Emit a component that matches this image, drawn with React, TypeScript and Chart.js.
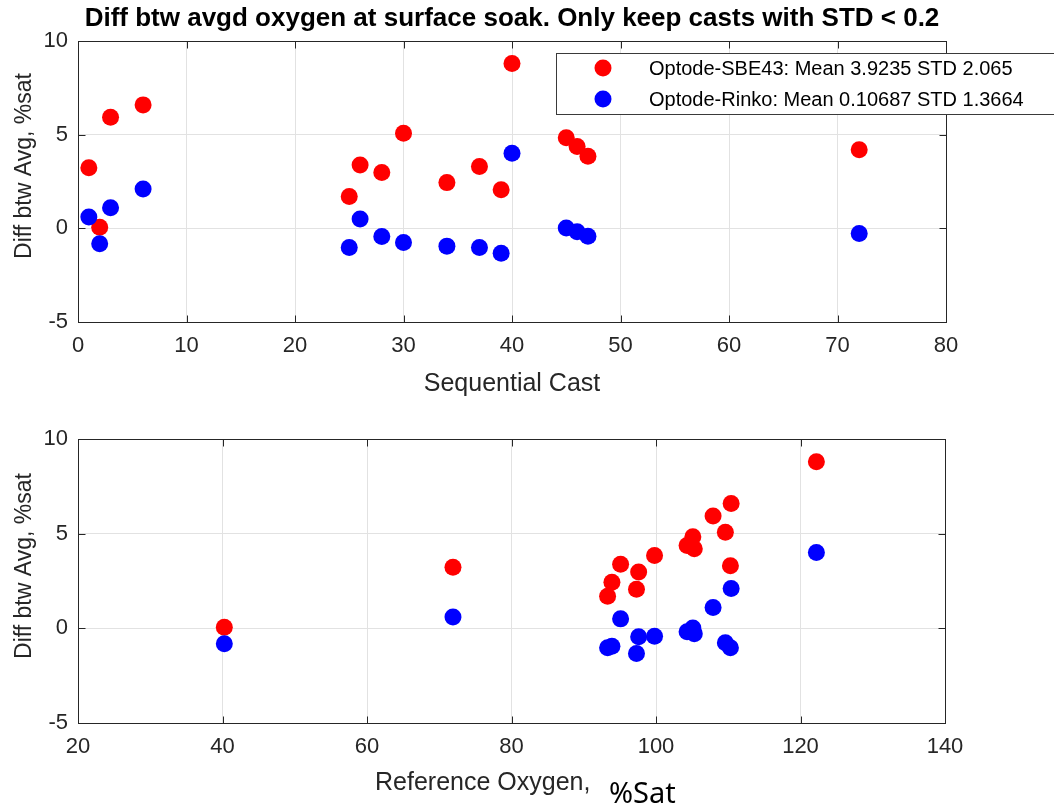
import { useEffect, useRef } from "react";
import { Chart, registerables } from "chart.js";

Chart.register(...registerables);

// ---- data ----
const casts = [1, 2, 3, 6, 25, 26, 28, 30, 34, 37, 39, 40, 45, 46, 47, 72];
const refOxygen = [71.9, 40.25, 107.9, 110.4, 93.3, 95.1, 97.6, 109.6, 93.9, 110.3, 97.3, 122.2, 105.1, 104.3, 99.8, 105.3];
const sbe43Diff = [3.23, 0.06, 5.93, 6.59, 1.7, 3.38, 2.98, 5.08, 2.44, 3.3, 2.06, 8.8, 4.84, 4.37, 3.85, 4.2];
const rinkoDiff = [0.6, -0.82, 1.1, 2.1, -1.02, 0.5, -0.44, -0.76, -0.95, -1.02, -1.33, 4.01, 0.02, -0.18, -0.42, -0.28];

const sbeLabel = "Optode-SBE43: Mean 3.9235 STD 2.065";
const rinkoLabel = "Optode-Rinko: Mean 0.10687 STD 1.3664";
const titleText = "Diff btw avgd oxygen at surface soak. Only keep casts with STD < 0.2";
const yTitleText = "Diff btw Avg, %sat";
const xTitleTop = "Sequential Cast";
const xTitleBottomMain = "Reference Oxygen,";
const xTitleBottomUnit = "%Sat";

const castTicks = { min: 0, max: 80, step: 10 };
const oxyTicks = { min: 20, max: 140, step: 20 };
const diffTicks = { min: -5, max: 10, step: 5 };

const RED = "#ff0000";
const BLUE = "#0000ff";
const AX = "#262626";
const GRID = "#e2e2e2";
const FONT = "'Liberation Sans', Arial, Helvetica, sans-serif";

const framePlugin = {
  id: "matlabFrame",
  afterDraw(chart: any) {
    const { ctx, chartArea } = chart;
    const l = Math.round(chartArea.left) + 0.5;
    const r = Math.round(chartArea.right) + 0.5;
    const t = Math.round(chartArea.top) + 0.5;
    const b = Math.round(chartArea.bottom) + 0.5;
    ctx.save();
    ctx.strokeStyle = AX;
    ctx.lineWidth = 1;
    ctx.strokeRect(l, t, r - l, b - t);
    const len = 7;
    const xs = chart.scales.x;
    const ys = chart.scales.y;
    ctx.beginPath();
    xs.ticks.forEach((tk: any) => {
      const p = Math.round(xs.getPixelForValue(tk.value)) + 0.5;
      ctx.moveTo(p, b);
      ctx.lineTo(p, b - len);
      ctx.moveTo(p, t);
      ctx.lineTo(p, t + len);
    });
    ys.ticks.forEach((tk: any) => {
      const p = Math.round(ys.getPixelForValue(tk.value)) + 0.5;
      ctx.moveTo(l, p);
      ctx.lineTo(l + len, p);
      ctx.moveTo(r, p);
      ctx.lineTo(r - len, p);
    });
    ctx.stroke();
    ctx.restore();
  },
};

function makeTextPlugin(kind: "top" | "bottom") {
  return {
    id: "matlabText_" + kind,
    afterDraw(chart: any) {
      const { ctx } = chart;
      ctx.save();
      // y axis title
      ctx.fillStyle = AX;
      ctx.font = `23px ${FONT}`;
      ctx.textAlign = "center";
      ctx.textBaseline = "alphabetic";
      ctx.save();
      ctx.translate(31, kind === "top" ? 166 : 166);
      ctx.rotate(-Math.PI / 2);
      ctx.fillText(yTitleText, 0, 0);
      ctx.restore();
      if (kind === "top") {
        ctx.font = `bold 26px ${FONT}`;
        ctx.fillStyle = "#000";
        ctx.textAlign = "center";
        ctx.fillText(titleText, 512, 26);
        ctx.font = `25px ${FONT}`;
        ctx.fillStyle = AX;
        ctx.fillText(xTitleTop, 512, 391);
        // legend
        const bx = 556.5, by = 53.5, bh = 61;
        ctx.fillStyle = "#fff";
        ctx.fillRect(bx, by, 600, bh);
        ctx.strokeStyle = "#3a3a3a";
        ctx.lineWidth = 1;
        ctx.strokeRect(bx, by, 600, bh);
        const rows = [
          { c: RED, t: sbeLabel, y: 68 },
          { c: BLUE, t: rinkoLabel, y: 99 },
        ];
        ctx.font = `20px ${FONT}`;
        ctx.textAlign = "left";
        ctx.textBaseline = "middle";
        rows.forEach((rw) => {
          ctx.fillStyle = rw.c;
          ctx.beginPath();
          ctx.arc(603, rw.y, 8.5, 0, Math.PI * 2);
          ctx.fill();
          ctx.fillStyle = "#000";
          ctx.fillText(rw.t, 649, rw.y + 1);
        });
      } else {
        ctx.font = `25px ${FONT}`;
        ctx.fillStyle = AX;
        ctx.textAlign = "left";
        ctx.fillText(xTitleBottomMain, 375, 390);
        ctx.font = `29px 'Noto Sans', 'Open Sans', sans-serif`;
        ctx.fillStyle = "#000";
        ctx.fillText(xTitleBottomUnit, 609, 403);
      }
      ctx.restore();
    },
  };
}

function buildConfig(kind: "top" | "bottom") {
  const xs = kind === "top" ? casts : refOxygen;
  const xr = kind === "top" ? castTicks : oxyTicks;
  const red = xs.map((x, i) => ({ x, y: sbe43Diff[i] }));
  const blue = xs.map((x, i) => ({ x, y: rinkoDiff[i] }));
  const tickFont = { family: FONT, size: 22 };
  return {
    type: "scatter" as const,
    data: {
      datasets: [
        { label: sbeLabel, data: red, backgroundColor: RED, borderColor: RED, pointRadius: 8.5, pointHoverRadius: 8.5, pointBorderWidth: 0, order: 1 },
        { label: rinkoLabel, data: blue, backgroundColor: BLUE, borderColor: BLUE, pointRadius: 8.5, pointHoverRadius: 8.5, pointBorderWidth: 0, order: 0 },
      ],
    },
    options: {
      responsive: false,
      animation: false as const,
      events: [],
      layout: {
        padding: kind === "top" ? { top: 41, right: 108, left: 0, bottom: 0 } : { top: 39, right: 109, left: 0, bottom: 0 },
      },
      plugins: {
        legend: { display: false },
        title: { display: false },
        tooltip: { enabled: false },
      },
      scales: {
        x: {
          type: "linear" as const,
          position: "bottom" as const,
          min: xr.min,
          max: xr.max,
          ticks: { stepSize: xr.step, color: AX, font: tickFont, padding: 11, maxRotation: 0 },
          grid: { color: GRID, drawTicks: false, lineWidth: 1 },
          border: { display: false },
          afterFit: (s: any) => {
            s.height = kind === "top" ? 78 : 82;
          },
        },
        y: {
          type: "linear" as const,
          min: diffTicks.min,
          max: diffTicks.max,
          ticks: { stepSize: diffTicks.step, color: AX, font: tickFont, padding: 10 },
          grid: { color: GRID, drawTicks: false, lineWidth: 1 },
          border: { display: false },
          afterFit: (s: any) => {
            s.width = 78;
          },
        },
      },
    },
    plugins: [framePlugin, makeTextPlugin(kind)],
  };
}

function Panel({ kind, top, height }: { kind: "top" | "bottom"; top: number; height: number }) {
  const ref = useRef<HTMLCanvasElement | null>(null);
  useEffect(() => {
    if (!ref.current) return;
    const chart = new Chart(ref.current, buildConfig(kind) as any);
    return () => chart.destroy();
  }, [kind]);
  return (
    <canvas
      ref={ref}
      width={1054}
      height={height}
      style={{ position: "absolute", left: 0, top, width: 1054, height }}
    />
  );
}

export default function App() {
  return (
    <div style={{ position: "fixed", left: 0, top: 0, width: 1054, height: 805, background: "#fff", overflow: "hidden" }}>
      <Panel kind="top" top={0} height={400} />
      <Panel kind="bottom" top={400} height={405} />
    </div>
  );
}
